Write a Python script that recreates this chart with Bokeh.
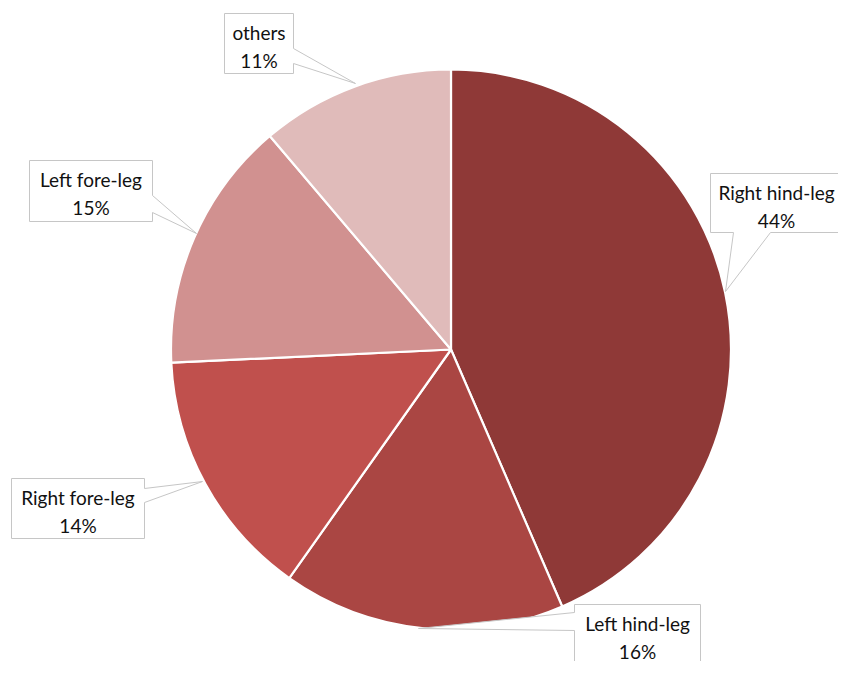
import math
from bokeh.plotting import figure
from bokeh.models import ColumnDataSource, Range1d
from bokeh.core.properties import value
from bokeh.embed import file_html
from bokeh.resources import INLINE

# ---- data ----
categories = ["Right hind-leg", "Left hind-leg", "Right fore-leg", "Left fore-leg", "others"]
shares = [43.5, 16.3, 14.45, 14.55, 11.2]
colors = ["#8F3937", "#AA4643", "#C0504D", "#D19190", "#E0BBBA"]

# ---- layout (pixel coordinates from the top-left, y downward) ----
W, H = 838, 661
CX, CY, R = 450.5, 349.0, 280.0

callouts = {
    "Right hind-leg": dict(box=(710, 173, 842, 232), side="bottom", base=(733, 770), tip=(725, 291)),
    "Left hind-leg": dict(box=(574, 604, 700, 666), side="left", base=(612, 630), tip=(418, 628)),
    "Right fore-leg": dict(box=(11, 478, 144, 538), side="right", base=(488, 502), tip=(202, 481)),
    "Left fore-leg": dict(box=(29, 160, 152, 221), side="right", base=(195, 212), tip=(196, 233)),
    "others": dict(box=(224, 13, 293, 73), side="right", base=(48, 63), tip=(355, 83)),
}


def fy(y):
    return H - y


p = figure(width=W, height=H, output_backend="svg", toolbar_location=None,
           x_range=Range1d(0, W), y_range=Range1d(0, H),
           min_border=0, outline_line_color=None)
p.axis.visible = False
p.grid.visible = False
p.background_fill_color = "white"
p.border_fill_color = "white"

# wedges, clockwise from 12 o'clock
total = sum(shares)
starts, ends = [], []
acc = 0.0
for s in shares:
    a0 = acc / total
    acc += s
    a1 = acc / total
    starts.append(math.pi / 2 - a0 * 2 * math.pi)
    ends.append(math.pi / 2 - a1 * 2 * math.pi)

src = ColumnDataSource(dict(start=starts, end=ends, color=colors, cat=categories))
p.wedge(x=CX, y=fy(CY), radius=R, start_angle="start", end_angle="end",
        direction="clock", fill_color="color", line_color="white", line_width=2.2,
        source=src)

# callouts
xs, ys, tx, ty1, ty2, names, pcts = [], [], [], [], [], [], []
for cat, s in zip(categories, shares):
    c = callouts[cat]
    l, t, r, b = c["box"]
    b1, b2 = c["base"]
    tipx, tipy = c["tip"]
    if c["side"] == "right":
        pts = [(l, t), (r, t), (r, b1), (tipx, tipy), (r, b2), (r, b), (l, b)]
    elif c["side"] == "left":
        pts = [(l, t), (r, t), (r, b), (l, b), (l, b2), (tipx, tipy), (l, b1)]
    else:  # bottom
        pts = [(l, t), (r, t), (r, b), (b2, b), (tipx, tipy), (b1, b), (l, b)]
    xs.append([pt[0] for pt in pts])
    ys.append([fy(pt[1]) for pt in pts])
    tx.append((l + r) / 2)
    ty1.append(fy(t + 18.5))
    ty2.append(fy(t + 46.5))
    names.append(cat)
    pcts.append(f"{round(s / total * 100)}%")

p.patches(xs=xs, ys=ys, fill_color="white", line_color="#C6C6C6", line_width=1)

tsrc = ColumnDataSource(dict(x=tx, y1=ty1, y2=ty2, name=names, pct=pcts))
for ycol, tcol in (("y1", "name"), ("y2", "pct")):
    p.text(x="x", y=ycol, text=tcol, source=tsrc, text_align="center",
           text_baseline="middle", text_font=value("Lato"), text_font_size="19px",
           text_color="#111111")

open("out.html", "w").write(file_html(p, INLINE))
